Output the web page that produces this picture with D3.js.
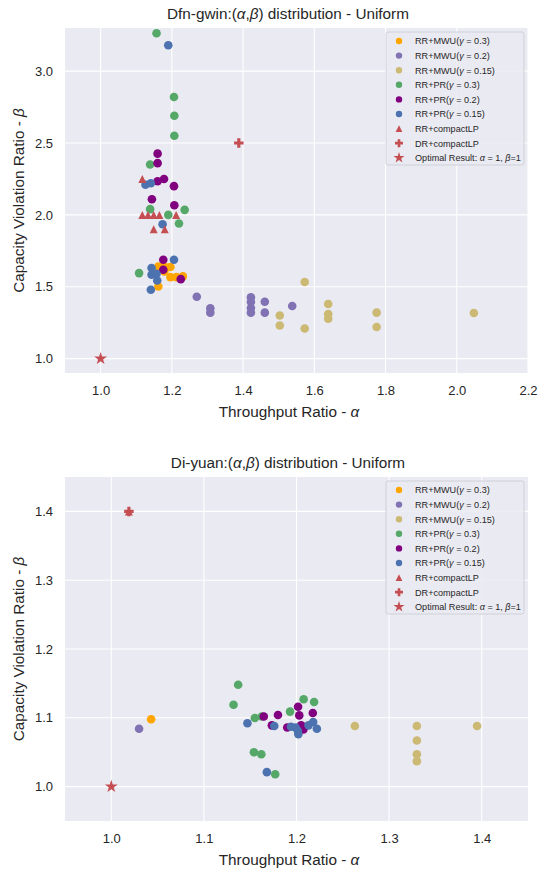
<!doctype html>
<html lang="en">
<head>
<meta charset="UTF-8">
<title>alpha beta distribution</title>
<script src="https://cdn.jsdelivr.net/npm/d3@7"></script>
<style>
  body { margin: 0; background: #fff; }
  text { font-family: "Liberation Sans", Arial, sans-serif; fill: #262626; }
</style>
</head>
<body>
<script>
// series labels (legend order)
var seriesNames = ["RR+MWU(γ = 0.3)", "RR+MWU(γ = 0.2)", "RR+MWU(γ = 0.15)",
                   "RR+PR(γ = 0.3)", "RR+PR(γ = 0.2)", "RR+PR(γ = 0.15)",
                   "RR+compactLP", "DR+compactLP", "Optimal Result: α = 1, β=1"];

// ---- Dfn-gwin : [alpha, beta]
var dfnMwu03 = [[1.162,1.64],[1.179,1.64],[1.196,1.637],[1.179,1.606],[1.196,1.567],[1.213,1.567],[1.231,1.572],[1.162,1.502]];
var dfnMwu02 = [[1.27,1.43],[1.308,1.35],[1.308,1.32],[1.422,1.426],[1.422,1.394],[1.422,1.352],[1.422,1.32],[1.461,1.396],[1.461,1.32],[1.538,1.366]];
var dfnMwu015 = [[1.503,1.30],[1.503,1.23],[1.573,1.533],[1.573,1.21],[1.639,1.38],[1.639,1.31],[1.639,1.278],[1.775,1.32],[1.775,1.22],[2.048,1.317]];
var dfnPr03 = [[1.157,3.264],[1.206,2.82],[1.207,2.69],[1.207,2.55],[1.139,2.35],[1.139,2.04],[1.236,2.035],[1.19,2.0],[1.22,1.94],[1.108,1.595]];
var dfnPr02 = [[1.16,2.426],[1.16,2.36],[1.16,2.234],[1.178,2.25],[1.206,2.20],[1.144,2.109],[1.207,2.067],[1.176,1.6875],[1.176,1.618],[1.225,1.553]];
var dfnPr015 = [[1.19,3.18],[1.126,2.21],[1.141,2.22],[1.174,1.935],[1.206,1.6875],[1.143,1.63],[1.143,1.583],[1.157,1.59],[1.159,1.544],[1.141,1.479]];
var dfnRrLp = [[1.117,2.25],[1.117,2.0],[1.133,2.0],[1.149,2.0],[1.165,2.0],[1.212,2.0],[1.149,1.90],[1.18,1.90]];
var dfnDrLp = [[1.388,2.5]];
var dfnOpt = [[1.0,1.0]];

// ---- Di-yuan : [alpha, beta]
var diyMwu03 = [[1.043,1.098]];
var diyMwu02 = [[1.030,1.084]];
var diyMwu015 = [[1.263,1.088],[1.33,1.088],[1.33,1.067],[1.33,1.047],[1.33,1.037],[1.395,1.088]];
var diyPr03 = [[1.137,1.148],[1.132,1.119],[1.155,1.0996],[1.1625,1.102],[1.193,1.109],[1.2077,1.127],[1.219,1.123],[1.154,1.050],[1.162,1.047],[1.177,1.018]];
var diyPr02 = [[1.1647,1.102],[1.18,1.104],[1.1734,1.089],[1.19,1.086],[1.2017,1.116],[1.203,1.1035],[1.2176,1.107],[1.205,1.089],[1.2075,1.083]];
var diyPr015 = [[1.147,1.092],[1.176,1.088],[1.194,1.087],[1.199,1.086],[1.2014,1.081],[1.202,1.076],[1.213,1.089],[1.218,1.094],[1.222,1.084],[1.168,1.021]];
var diyRrLp = [[1.019,1.40]];
var diyDrLp = [[1.019,1.40]];
var diyOpt = [[1.0,1.0]];

// axis ticks
var dfnXTicks = [1.0, 1.2, 1.4, 1.6, 1.8, 2.0, 2.2];
var dfnYTicks = [1.0, 1.5, 2.0, 2.5, 3.0];
var diyXTicks = [1.0, 1.1, 1.2, 1.3, 1.4];
var diyYTicks = [1.0, 1.1, 1.2, 1.3, 1.4];

var colors = ["#ffa500", "#8172b3", "#ccb974", "#55a868", "#800080", "#4c72b0", "#c44e52", "#c44e52", "#c44e52"];
var shapes = ["circle", "circle", "circle", "circle", "circle", "circle", "triangle", "plus", "star"];

var width = 539, height = 869;
var svg = d3.select("body").append("svg")
    .attr("width", width)
    .attr("height", height);

function markerPath(shape, s) {
    if (shape === "circle") return d3.symbol(d3.symbolCircle, s * s * 0.785)();
    if (shape === "star") return d3.symbol(d3.symbolStar, s * s * 0.42)();
    var h = s / 2;
    if (shape === "triangle") {
        return "M0," + (-h) + "L" + h + "," + h + "L" + (-h) + "," + h + "Z";
    }
    // filled plus ("P")
    var t = s / 6;
    return "M" + (-t) + "," + (-h) + "H" + t + "V" + (-t) + "H" + h + "V" + t + "H" + t + "V" + h +
           "H" + (-t) + "V" + t + "H" + (-h) + "V" + (-t) + "H" + (-t) + "Z";
}

// label with italic greek letters
function richText(sel, str) {
    var parts = str.split(/([αβγ])/);
    parts.forEach(function(p) {
        if (!p) return;
        var ts = sel.append("tspan").text(p);
        if (/[αβγ]/.test(p)) ts.style("font-style", "italic");
    });
}

function drawPanel(cfg) {
    var x = d3.scaleLinear().domain(cfg.xDomain).range([65, 528]);
    var y = d3.scaleLinear().domain(cfg.yDomain).range([cfg.bottom, cfg.top]);
    var g = svg.append("g");

    g.append("rect")
        .attr("x", 65).attr("y", cfg.top)
        .attr("width", 528 - 65).attr("height", cfg.bottom - cfg.top)
        .attr("fill", "#eaeaf2");

    // grid
    g.selectAll(".gx").data(cfg.xTicks).enter().append("line")
        .attr("x1", function(d) { return x(d); }).attr("x2", function(d) { return x(d); })
        .attr("y1", cfg.top).attr("y2", cfg.bottom)
        .attr("stroke", "#fff").attr("stroke-width", 1.1);
    g.selectAll(".gy").data(cfg.yTicks).enter().append("line")
        .attr("y1", function(d) { return y(d); }).attr("y2", function(d) { return y(d); })
        .attr("x1", 65).attr("x2", 528)
        .attr("stroke", "#fff").attr("stroke-width", 1.1);

    var xAxis = d3.axisBottom(x).tickValues(cfg.xTicks).tickFormat(d3.format(".1f")).tickSize(0).tickPadding(13);
    var yAxis = d3.axisLeft(y).tickValues(cfg.yTicks).tickFormat(d3.format(".1f")).tickSize(0).tickPadding(12);
    var gx = g.append("g").attr("transform", "translate(0," + cfg.bottom + ")").call(xAxis);
    var gy = g.append("g").attr("transform", "translate(65,0)").call(yAxis);
    [gx, gy].forEach(function(a) {
        a.select(".domain").remove();
        a.selectAll("text").attr("font-size", 13).attr("fill", "#262626")
            .attr("font-family", "Liberation Sans, Arial, sans-serif");
    });

    // title and axis labels
    richText(g.append("text").attr("x", 288).attr("y", cfg.top - 9)
        .attr("text-anchor", "middle").attr("font-size", 15.3), cfg.title);
    richText(g.append("text").attr("x", 289).attr("y", cfg.bottom + 44)
        .attr("text-anchor", "middle").attr("font-size", 15.3), "Throughput Ratio - α");
    richText(g.append("text")
        .attr("transform", "translate(24," + ((cfg.top + cfg.bottom) / 2) + ") rotate(-90)")
        .attr("text-anchor", "middle").attr("font-size", 15.3), "Capacity Violation Ratio - β");

    // points
    var sizes = [8.6, 8.6, 8.6, 8.6, 8.6, 8.6, 8, 9.5, 11];
    cfg.series.forEach(function(data, i) {
        g.selectAll(".s" + i).data(data).enter().append("path")
            .attr("d", markerPath(shapes[i], sizes[i]))
            .attr("transform", function(d) { return "translate(" + x(d[0]) + "," + y(d[1]) + ")"; })
            .attr("fill", colors[i]);
    });

    // legend
    var lg = g.append("g").attr("transform", "translate(386," + cfg.legendTop + ")");
    lg.append("rect").attr("width", 138).attr("height", 133).attr("rx", 2)
        .attr("fill", "#eaeaf2").attr("fill-opacity", 0.85)
        .attr("stroke", "#d0d0d8").attr("stroke-width", 1);
    seriesNames.forEach(function(name, i) {
        var yy = 9 + i * 14.6;
        var ls = [6.4, 6.4, 6.4, 6.4, 6.4, 6.4, 6.8, 8, 9.5];
        lg.append("path").attr("d", markerPath(shapes[i], ls[i]))
            .attr("transform", "translate(13," + yy + ")")
            .attr("fill", colors[i]);
        richText(lg.append("text").attr("x", 29).attr("y", yy + 3.3)
            .attr("font-size", 9.1), name);
    });
}

drawPanel({
    title: "Dfn-gwin:(α,β) distribution - Uniform",
    xDomain: [0.9, 2.2], yDomain: [0.9, 3.3],
    xTicks: dfnXTicks, yTicks: dfnYTicks,
    top: 28, bottom: 373, legendTop: 32,
    series: [dfnMwu03, dfnMwu02, dfnMwu015, dfnPr03, dfnPr02, dfnPr015, dfnRrLp, dfnDrLp, dfnOpt]
});

drawPanel({
    title: "Di-yuan:(α,β) distribution - Uniform",
    xDomain: [0.95, 1.45], yDomain: [0.95, 1.45],
    xTicks: diyXTicks, yTicks: diyYTicks,
    top: 477, bottom: 821, legendTop: 481,
    series: [diyMwu03, diyMwu02, diyMwu015, diyPr03, diyPr02, diyPr015, diyRrLp, diyDrLp, diyOpt]
});
</script>
</body>
</html>
